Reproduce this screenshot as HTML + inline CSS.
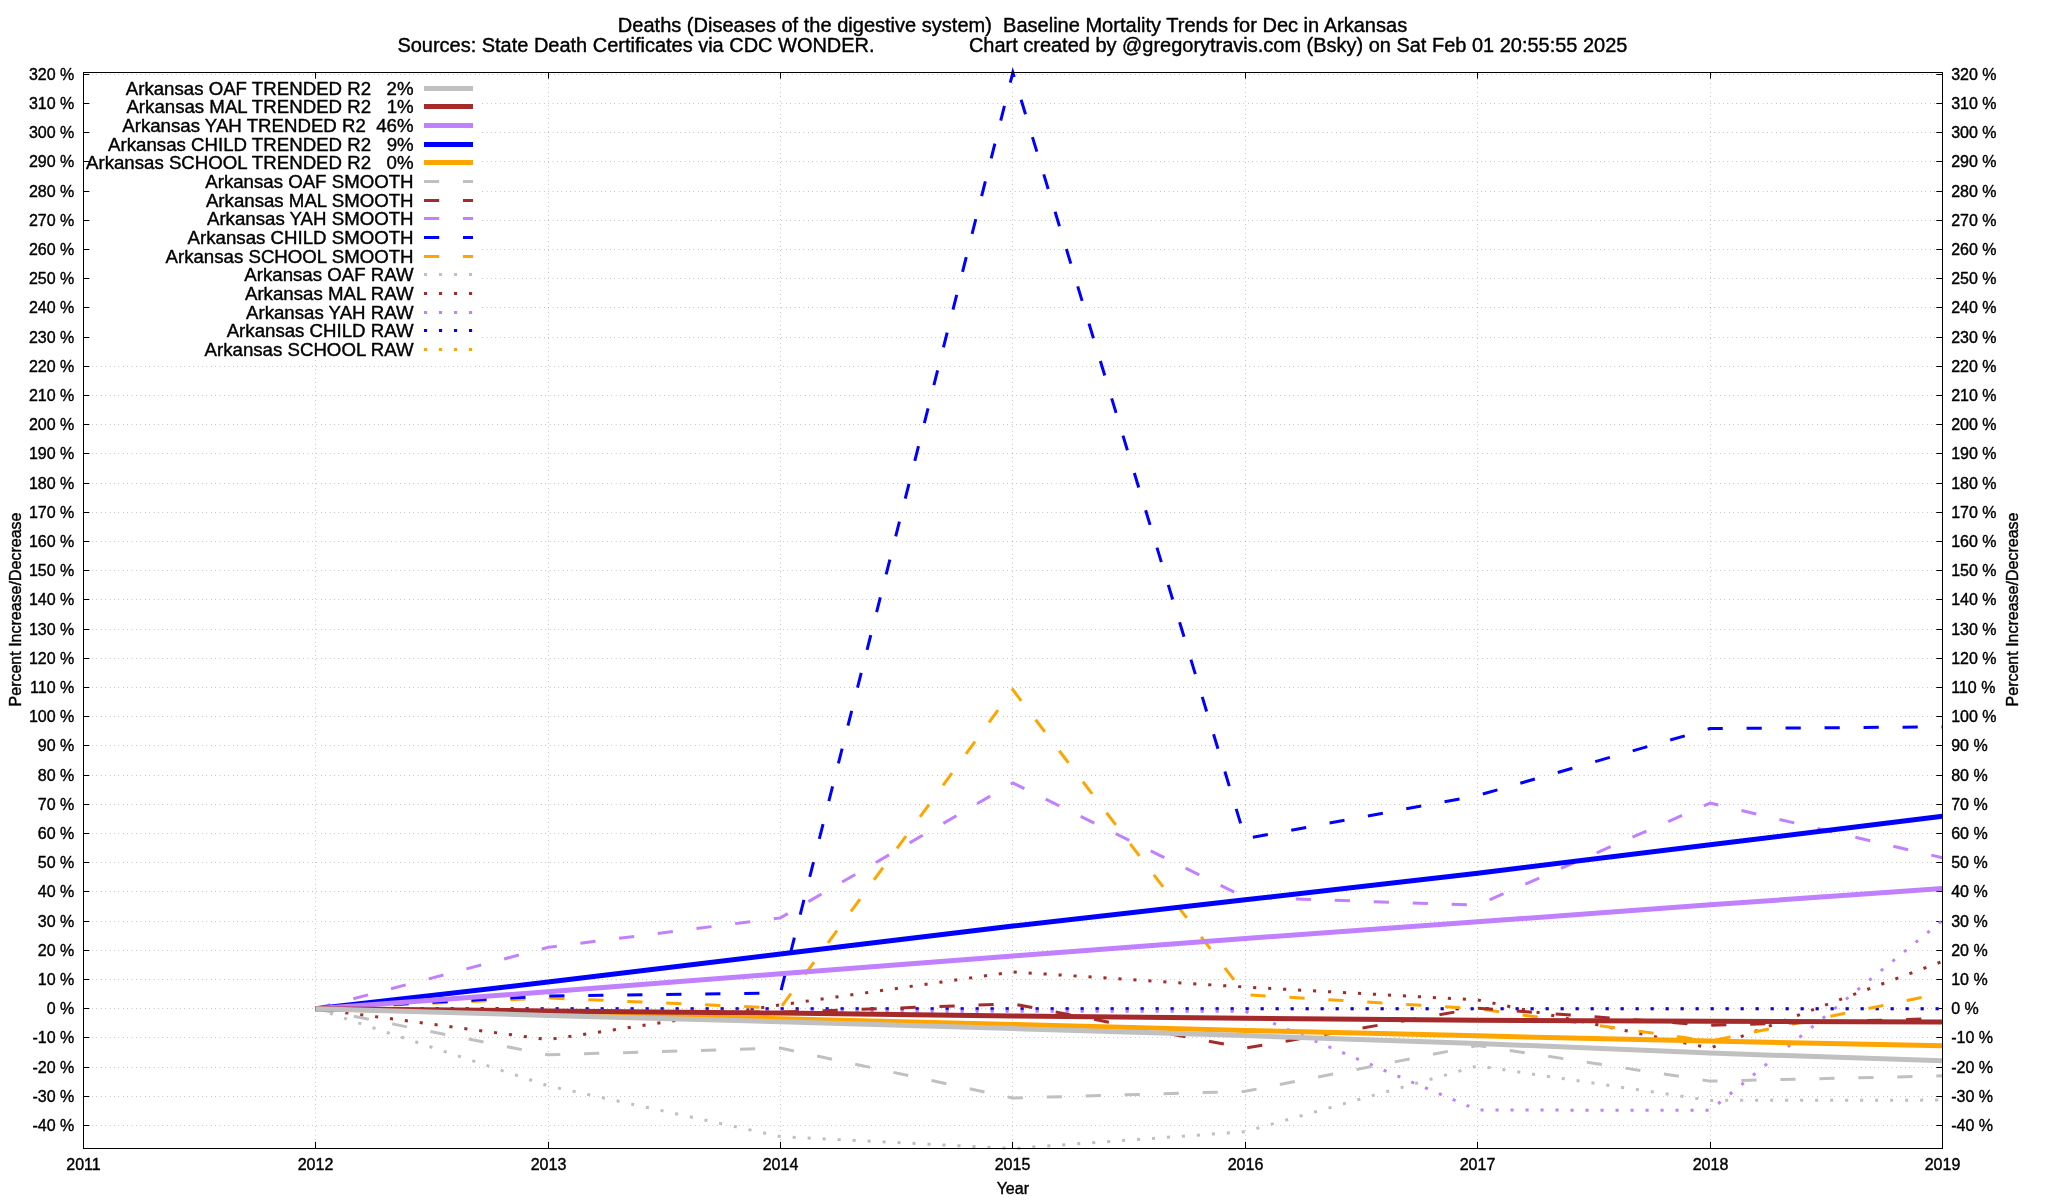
<!DOCTYPE html>
<html lang="en"><head><meta charset="utf-8"><title>Baseline Mortality Trends for Dec in Arkansas</title>
<style>
html,body{margin:0;padding:0;background:#fff;}
body{width:2048px;height:1200px;overflow:hidden;}
svg{display:block;}
text{white-space:pre;font-family:"Liberation Sans", sans-serif;fill:#000;stroke:#000;stroke-width:0.4px;stroke-linejoin:round;}
.t20{font-size:20.04px;}
.t18{font-size:18.67px;}
.t16{font-size:16px;}
.grid line{stroke:#000;stroke-width:0.5;stroke-dasharray:0.44 3.96;}
.tick line{stroke:#000;stroke-width:1;}
.ln polyline,.ln line{fill:none;stroke-linejoin:miter;stroke-linecap:butt;}
</style></head><body>
<div id="chart" style="will-change:transform;width:2048px;height:1200px;background:#fff">
<svg width="2048" height="1200" viewBox="0 0 2048 1200">
<rect x="0" y="0" width="2048" height="1200" fill="#ffffff"/>
<text class="t20" x="1012.5" y="31.8" text-anchor="middle" xml:space="preserve">Deaths (Diseases of the digestive system)  Baseline Mortality Trends for Dec in Arkansas</text>
<text class="t20" style="font-size:19.98px" x="1012.4" y="51.8" text-anchor="middle" xml:space="preserve">Sources: State Death Certificates via CDC WONDER.                 Chart created by @gregorytravis.com (Bsky) on Sat Feb 01 20:55:55 2025</text>
<g class="grid">
<line x1="83.45" y1="1125.5" x2="1942.5" y2="1125.5"/>
<line x1="83.45" y1="1096.5" x2="1942.5" y2="1096.5"/>
<line x1="83.45" y1="1067.5" x2="1942.5" y2="1067.5"/>
<line x1="83.45" y1="1037.5" x2="1942.5" y2="1037.5"/>
<line x1="83.45" y1="1008.5" x2="1942.5" y2="1008.5"/>
<line x1="83.45" y1="979.5" x2="1942.5" y2="979.5"/>
<line x1="83.45" y1="950.5" x2="1942.5" y2="950.5"/>
<line x1="83.45" y1="921.5" x2="1942.5" y2="921.5"/>
<line x1="83.45" y1="891.5" x2="1942.5" y2="891.5"/>
<line x1="83.45" y1="862.5" x2="1942.5" y2="862.5"/>
<line x1="83.45" y1="833.5" x2="1942.5" y2="833.5"/>
<line x1="83.45" y1="804.5" x2="1942.5" y2="804.5"/>
<line x1="83.45" y1="775.5" x2="1942.5" y2="775.5"/>
<line x1="83.45" y1="745.5" x2="1942.5" y2="745.5"/>
<line x1="83.45" y1="716.5" x2="1942.5" y2="716.5"/>
<line x1="83.45" y1="687.5" x2="1942.5" y2="687.5"/>
<line x1="83.45" y1="658.5" x2="1942.5" y2="658.5"/>
<line x1="83.45" y1="629.5" x2="1942.5" y2="629.5"/>
<line x1="83.45" y1="599.5" x2="1942.5" y2="599.5"/>
<line x1="83.45" y1="570.5" x2="1942.5" y2="570.5"/>
<line x1="83.45" y1="541.5" x2="1942.5" y2="541.5"/>
<line x1="83.45" y1="512.5" x2="1942.5" y2="512.5"/>
<line x1="83.45" y1="483.5" x2="1942.5" y2="483.5"/>
<line x1="83.45" y1="453.5" x2="1942.5" y2="453.5"/>
<line x1="83.45" y1="424.5" x2="1942.5" y2="424.5"/>
<line x1="83.45" y1="395.5" x2="1942.5" y2="395.5"/>
<line x1="83.45" y1="366.5" x2="1942.5" y2="366.5"/>
<line x1="83.45" y1="337.5" x2="90" y2="337.5"/><line x1="482.45" y1="337.5" x2="1942.5" y2="337.5"/>
<line x1="83.45" y1="307.5" x2="90" y2="307.5"/><line x1="482.45" y1="307.5" x2="1942.5" y2="307.5"/>
<line x1="83.45" y1="278.5" x2="90" y2="278.5"/><line x1="482.45" y1="278.5" x2="1942.5" y2="278.5"/>
<line x1="83.45" y1="249.5" x2="90" y2="249.5"/><line x1="482.45" y1="249.5" x2="1942.5" y2="249.5"/>
<line x1="83.45" y1="220.5" x2="90" y2="220.5"/><line x1="482.45" y1="220.5" x2="1942.5" y2="220.5"/>
<line x1="83.45" y1="191.5" x2="90" y2="191.5"/><line x1="482.45" y1="191.5" x2="1942.5" y2="191.5"/>
<line x1="83.45" y1="161.5" x2="90" y2="161.5"/><line x1="482.45" y1="161.5" x2="1942.5" y2="161.5"/>
<line x1="83.45" y1="132.5" x2="90" y2="132.5"/><line x1="482.45" y1="132.5" x2="1942.5" y2="132.5"/>
<line x1="83.45" y1="103.5" x2="90" y2="103.5"/><line x1="482.45" y1="103.5" x2="1942.5" y2="103.5"/>
<line x1="83.45" y1="74.5" x2="1942.5" y2="74.5"/>
<line x1="315.5" y1="1148.52" x2="315.5" y2="359.2"/><line x1="315.5" y1="79" x2="315.5" y2="72.5"/>
<line x1="548.5" y1="1148.52" x2="548.5" y2="72.5"/>
<line x1="780.5" y1="1148.52" x2="780.5" y2="72.5"/>
<line x1="1012.5" y1="1148.52" x2="1012.5" y2="72.5"/>
<line x1="1245.5" y1="1148.52" x2="1245.5" y2="72.5"/>
<line x1="1477.5" y1="1148.52" x2="1477.5" y2="72.5"/>
<line x1="1710.5" y1="1148.52" x2="1710.5" y2="72.5"/>
</g>
<g class="tick">
<line x1="83.5" y1="1125.5" x2="89.4" y2="1125.5"/><line x1="1942.5" y1="1125.5" x2="1936.3" y2="1125.5"/>
<line x1="83.5" y1="1096.5" x2="89.4" y2="1096.5"/><line x1="1942.5" y1="1096.5" x2="1936.3" y2="1096.5"/>
<line x1="83.5" y1="1067.5" x2="89.4" y2="1067.5"/><line x1="1942.5" y1="1067.5" x2="1936.3" y2="1067.5"/>
<line x1="83.5" y1="1037.5" x2="89.4" y2="1037.5"/><line x1="1942.5" y1="1037.5" x2="1936.3" y2="1037.5"/>
<line x1="83.5" y1="1008.5" x2="89.4" y2="1008.5"/><line x1="1942.5" y1="1008.5" x2="1936.3" y2="1008.5"/>
<line x1="83.5" y1="979.5" x2="89.4" y2="979.5"/><line x1="1942.5" y1="979.5" x2="1936.3" y2="979.5"/>
<line x1="83.5" y1="950.5" x2="89.4" y2="950.5"/><line x1="1942.5" y1="950.5" x2="1936.3" y2="950.5"/>
<line x1="83.5" y1="921.5" x2="89.4" y2="921.5"/><line x1="1942.5" y1="921.5" x2="1936.3" y2="921.5"/>
<line x1="83.5" y1="891.5" x2="89.4" y2="891.5"/><line x1="1942.5" y1="891.5" x2="1936.3" y2="891.5"/>
<line x1="83.5" y1="862.5" x2="89.4" y2="862.5"/><line x1="1942.5" y1="862.5" x2="1936.3" y2="862.5"/>
<line x1="83.5" y1="833.5" x2="89.4" y2="833.5"/><line x1="1942.5" y1="833.5" x2="1936.3" y2="833.5"/>
<line x1="83.5" y1="804.5" x2="89.4" y2="804.5"/><line x1="1942.5" y1="804.5" x2="1936.3" y2="804.5"/>
<line x1="83.5" y1="775.5" x2="89.4" y2="775.5"/><line x1="1942.5" y1="775.5" x2="1936.3" y2="775.5"/>
<line x1="83.5" y1="745.5" x2="89.4" y2="745.5"/><line x1="1942.5" y1="745.5" x2="1936.3" y2="745.5"/>
<line x1="83.5" y1="716.5" x2="89.4" y2="716.5"/><line x1="1942.5" y1="716.5" x2="1936.3" y2="716.5"/>
<line x1="83.5" y1="687.5" x2="89.4" y2="687.5"/><line x1="1942.5" y1="687.5" x2="1936.3" y2="687.5"/>
<line x1="83.5" y1="658.5" x2="89.4" y2="658.5"/><line x1="1942.5" y1="658.5" x2="1936.3" y2="658.5"/>
<line x1="83.5" y1="629.5" x2="89.4" y2="629.5"/><line x1="1942.5" y1="629.5" x2="1936.3" y2="629.5"/>
<line x1="83.5" y1="599.5" x2="89.4" y2="599.5"/><line x1="1942.5" y1="599.5" x2="1936.3" y2="599.5"/>
<line x1="83.5" y1="570.5" x2="89.4" y2="570.5"/><line x1="1942.5" y1="570.5" x2="1936.3" y2="570.5"/>
<line x1="83.5" y1="541.5" x2="89.4" y2="541.5"/><line x1="1942.5" y1="541.5" x2="1936.3" y2="541.5"/>
<line x1="83.5" y1="512.5" x2="89.4" y2="512.5"/><line x1="1942.5" y1="512.5" x2="1936.3" y2="512.5"/>
<line x1="83.5" y1="483.5" x2="89.4" y2="483.5"/><line x1="1942.5" y1="483.5" x2="1936.3" y2="483.5"/>
<line x1="83.5" y1="453.5" x2="89.4" y2="453.5"/><line x1="1942.5" y1="453.5" x2="1936.3" y2="453.5"/>
<line x1="83.5" y1="424.5" x2="89.4" y2="424.5"/><line x1="1942.5" y1="424.5" x2="1936.3" y2="424.5"/>
<line x1="83.5" y1="395.5" x2="89.4" y2="395.5"/><line x1="1942.5" y1="395.5" x2="1936.3" y2="395.5"/>
<line x1="83.5" y1="366.5" x2="89.4" y2="366.5"/><line x1="1942.5" y1="366.5" x2="1936.3" y2="366.5"/>
<line x1="83.5" y1="337.5" x2="89.4" y2="337.5"/><line x1="1942.5" y1="337.5" x2="1936.3" y2="337.5"/>
<line x1="83.5" y1="307.5" x2="89.4" y2="307.5"/><line x1="1942.5" y1="307.5" x2="1936.3" y2="307.5"/>
<line x1="83.5" y1="278.5" x2="89.4" y2="278.5"/><line x1="1942.5" y1="278.5" x2="1936.3" y2="278.5"/>
<line x1="83.5" y1="249.5" x2="89.4" y2="249.5"/><line x1="1942.5" y1="249.5" x2="1936.3" y2="249.5"/>
<line x1="83.5" y1="220.5" x2="89.4" y2="220.5"/><line x1="1942.5" y1="220.5" x2="1936.3" y2="220.5"/>
<line x1="83.5" y1="191.5" x2="89.4" y2="191.5"/><line x1="1942.5" y1="191.5" x2="1936.3" y2="191.5"/>
<line x1="83.5" y1="161.5" x2="89.4" y2="161.5"/><line x1="1942.5" y1="161.5" x2="1936.3" y2="161.5"/>
<line x1="83.5" y1="132.5" x2="89.4" y2="132.5"/><line x1="1942.5" y1="132.5" x2="1936.3" y2="132.5"/>
<line x1="83.5" y1="103.5" x2="89.4" y2="103.5"/><line x1="1942.5" y1="103.5" x2="1936.3" y2="103.5"/>
<line x1="83.5" y1="74.5" x2="89.4" y2="74.5"/><line x1="1942.5" y1="74.5" x2="1936.3" y2="74.5"/>
<line x1="315.5" y1="1148.5" x2="315.5" y2="1141.8"/><line x1="315.5" y1="72.5" x2="315.5" y2="78.6"/>
<line x1="548.5" y1="1148.5" x2="548.5" y2="1141.8"/><line x1="548.5" y1="72.5" x2="548.5" y2="78.6"/>
<line x1="780.5" y1="1148.5" x2="780.5" y2="1141.8"/><line x1="780.5" y1="72.5" x2="780.5" y2="78.6"/>
<line x1="1012.5" y1="1148.5" x2="1012.5" y2="1141.8"/><line x1="1012.5" y1="72.5" x2="1012.5" y2="78.6"/>
<line x1="1245.5" y1="1148.5" x2="1245.5" y2="1141.8"/><line x1="1245.5" y1="72.5" x2="1245.5" y2="78.6"/>
<line x1="1477.5" y1="1148.5" x2="1477.5" y2="1141.8"/><line x1="1477.5" y1="72.5" x2="1477.5" y2="78.6"/>
<line x1="1710.5" y1="1148.5" x2="1710.5" y2="1141.8"/><line x1="1710.5" y1="72.5" x2="1710.5" y2="78.6"/>
</g>
<rect x="90" y="79" width="391.5" height="280.2" fill="#ffffff"/>
<g class="ln">
<polyline points="315.61,1008.70 548.02,1008.70 780.44,1008.70 1012.85,1008.70 1245.26,1008.70 1477.67,1008.70 1710.09,1008.70 1942.50,1008.70" stroke="#ffa500" stroke-width="3" stroke-dasharray="3.1 11.9"/>
<polyline points="315.61,1008.70 548.02,1008.70 780.44,1008.70 1012.85,1008.70 1245.26,1008.70 1477.67,1008.70 1710.09,1008.70 1942.50,1008.70" stroke="#0000ff" stroke-width="3" stroke-dasharray="3.1 11.9"/>
<polyline points="315.61,1008.70 548.02,1011.33 780.44,1011.33 1012.85,1011.33 1245.26,1011.33 1477.67,1110.02 1710.09,1110.32 1942.50,920.52" stroke="#c080ff" stroke-width="3" stroke-dasharray="3.1 11.9"/>
<polyline points="315.61,1008.70 548.02,1039.65 780.44,1004.90 1012.85,971.91 1245.26,987.09 1477.67,999.94 1710.09,1048.12 1942.50,961.40" stroke="#a52a2a" stroke-width="3" stroke-dasharray="3.1 11.9"/>
<polyline points="315.61,1008.70 548.02,1085.79 780.44,1136.60 1012.85,1148.50 1245.26,1131.63 1477.67,1065.93 1710.09,1100.39 1942.50,1100.10" stroke="#c0c0c0" stroke-width="3" stroke-dasharray="3.1 11.9"/>
<polyline points="315.61,1008.70 548.02,997.90 780.44,1008.12 1012.85,689.84 1245.26,994.68 1477.67,1008.70 1710.09,1041.11 1942.50,993.22" stroke="#ffa500" stroke-width="3" stroke-dasharray="15.2 23.8"/>
<polyline points="315.61,1008.70 548.02,996.00 780.44,992.93 1012.85,72.50 1245.26,838.76 1477.67,795.54 1710.09,728.53 1942.50,726.92" stroke="#0000ff" stroke-width="3" stroke-dasharray="15.2 23.8"/>
<polyline points="315.61,1008.70 548.02,947.38 780.44,917.89 1012.85,782.98 1245.26,897.45 1477.67,905.04 1710.09,803.13 1942.50,857.74" stroke="#c080ff" stroke-width="3" stroke-dasharray="15.2 23.8"/>
<polyline points="315.61,1008.70 548.02,1011.04 780.44,1012.20 1012.85,1003.88 1245.26,1048.12 1477.67,1008.12 1710.09,1025.34 1942.50,1018.34" stroke="#a52a2a" stroke-width="3" stroke-dasharray="15.2 23.8"/>
<polyline points="315.61,1008.70 548.02,1054.84 780.44,1048.12 1012.85,1098.05 1245.26,1091.34 1477.67,1045.49 1710.09,1081.12 1942.50,1075.86" stroke="#c0c0c0" stroke-width="3" stroke-dasharray="15.2 23.8"/>
<polyline points="315.61,1008.70 548.02,1013.66 780.44,1018.74 1012.85,1024.47 1245.26,1030.40 1477.67,1035.86 1710.09,1040.97 1942.50,1045.87" stroke="#ffa500" stroke-width="5"/>
<polyline points="315.61,1008.70 548.02,982.10 780.44,954.07 1012.85,926.06 1245.26,899.84 1477.67,873.24 1710.09,844.83 1942.50,816.27" stroke="#0000ff" stroke-width="5"/>
<polyline points="315.61,1008.70 548.02,991.71 780.44,973.81 1012.85,955.99 1245.26,938.53 1477.67,921.86 1710.09,904.84 1942.50,888.40" stroke="#c080ff" stroke-width="5"/>
<polyline points="315.61,1008.70 548.02,1010.89 780.44,1013.08 1012.85,1016.00 1245.26,1018.19 1477.67,1020.20 1710.09,1021.20 1942.50,1021.93" stroke="#a52a2a" stroke-width="5"/>
<polyline points="315.61,1008.70 548.02,1015.42 780.44,1021.69 1012.85,1028.56 1245.26,1035.56 1477.67,1043.45 1710.09,1053.08 1942.50,1060.76" stroke="#c0c0c0" stroke-width="5"/>
<line x1="424.0" y1="88.50" x2="473.0" y2="88.50" stroke="#c0c0c0" stroke-width="5"/>
<line x1="424.0" y1="106.50" x2="473.0" y2="106.50" stroke="#a52a2a" stroke-width="5"/>
<line x1="424.0" y1="125.50" x2="473.0" y2="125.50" stroke="#c080ff" stroke-width="5"/>
<line x1="424.0" y1="144.50" x2="473.0" y2="144.50" stroke="#0000ff" stroke-width="5"/>
<line x1="424.0" y1="162.50" x2="473.0" y2="162.50" stroke="#ffa500" stroke-width="5"/>
<line x1="424.0" y1="181.50" x2="473.0" y2="181.50" stroke="#c0c0c0" stroke-width="3" stroke-dasharray="15.2 23.8"/>
<line x1="424.0" y1="200.50" x2="473.0" y2="200.50" stroke="#a52a2a" stroke-width="3" stroke-dasharray="15.2 23.8"/>
<line x1="424.0" y1="218.50" x2="473.0" y2="218.50" stroke="#c080ff" stroke-width="3" stroke-dasharray="15.2 23.8"/>
<line x1="424.0" y1="237.50" x2="473.0" y2="237.50" stroke="#0000ff" stroke-width="3" stroke-dasharray="15.2 23.8"/>
<line x1="424.0" y1="256.50" x2="473.0" y2="256.50" stroke="#ffa500" stroke-width="3" stroke-dasharray="15.2 23.8"/>
<line x1="424.0" y1="274.50" x2="473.0" y2="274.50" stroke="#c0c0c0" stroke-width="3" stroke-dasharray="3.1 11.9"/>
<line x1="424.0" y1="293.50" x2="473.0" y2="293.50" stroke="#a52a2a" stroke-width="3" stroke-dasharray="3.1 11.9"/>
<line x1="424.0" y1="312.50" x2="473.0" y2="312.50" stroke="#c080ff" stroke-width="3" stroke-dasharray="3.1 11.9"/>
<line x1="424.0" y1="330.50" x2="473.0" y2="330.50" stroke="#0000ff" stroke-width="3" stroke-dasharray="3.1 11.9"/>
<line x1="424.0" y1="349.50" x2="473.0" y2="349.50" stroke="#ffa500" stroke-width="3" stroke-dasharray="3.1 11.9"/>
</g>
<g class="t18" text-anchor="end">
<text x="413.6" y="95.10" xml:space="preserve">Arkansas OAF TRENDED R2   2%</text>
<text x="413.6" y="113.10" xml:space="preserve">Arkansas MAL TRENDED R2   1%</text>
<text x="413.6" y="132.10" xml:space="preserve">Arkansas YAH TRENDED R2  46%</text>
<text x="413.6" y="151.10" xml:space="preserve">Arkansas CHILD TRENDED R2   9%</text>
<text x="413.6" y="169.10" xml:space="preserve">Arkansas SCHOOL TRENDED R2   0%</text>
<text x="413.6" y="188.10" xml:space="preserve">Arkansas OAF SMOOTH</text>
<text x="413.6" y="207.10" xml:space="preserve">Arkansas MAL SMOOTH</text>
<text x="413.6" y="225.10" xml:space="preserve">Arkansas YAH SMOOTH</text>
<text x="413.6" y="244.10" xml:space="preserve">Arkansas CHILD SMOOTH</text>
<text x="413.6" y="263.10" xml:space="preserve">Arkansas SCHOOL SMOOTH</text>
<text x="413.6" y="281.10" xml:space="preserve">Arkansas OAF RAW</text>
<text x="413.6" y="300.10" xml:space="preserve">Arkansas MAL RAW</text>
<text x="413.6" y="319.10" xml:space="preserve">Arkansas YAH RAW</text>
<text x="413.6" y="337.10" xml:space="preserve">Arkansas CHILD RAW</text>
<text x="413.6" y="356.10" xml:space="preserve">Arkansas SCHOOL RAW</text>
</g>
<rect x="83.5" y="72.5" width="1859.0" height="1076.0" fill="none" stroke="#000" stroke-width="1"/>
<g class="t16">
<text x="74.3" y="1130.8" text-anchor="end">-40 %</text><text x="1951.2" y="1130.8">-40 %</text>
<text x="74.3" y="1101.8" text-anchor="end">-30 %</text><text x="1951.2" y="1101.8">-30 %</text>
<text x="74.3" y="1072.8" text-anchor="end">-20 %</text><text x="1951.2" y="1072.8">-20 %</text>
<text x="74.3" y="1042.8" text-anchor="end">-10 %</text><text x="1951.2" y="1042.8">-10 %</text>
<text x="74.3" y="1013.8" text-anchor="end">0 %</text><text x="1951.2" y="1013.8">0 %</text>
<text x="74.3" y="984.8" text-anchor="end">10 %</text><text x="1951.2" y="984.8">10 %</text>
<text x="74.3" y="955.8" text-anchor="end">20 %</text><text x="1951.2" y="955.8">20 %</text>
<text x="74.3" y="926.8" text-anchor="end">30 %</text><text x="1951.2" y="926.8">30 %</text>
<text x="74.3" y="896.8" text-anchor="end">40 %</text><text x="1951.2" y="896.8">40 %</text>
<text x="74.3" y="867.8" text-anchor="end">50 %</text><text x="1951.2" y="867.8">50 %</text>
<text x="74.3" y="838.8" text-anchor="end">60 %</text><text x="1951.2" y="838.8">60 %</text>
<text x="74.3" y="809.8" text-anchor="end">70 %</text><text x="1951.2" y="809.8">70 %</text>
<text x="74.3" y="780.8" text-anchor="end">80 %</text><text x="1951.2" y="780.8">80 %</text>
<text x="74.3" y="750.8" text-anchor="end">90 %</text><text x="1951.2" y="750.8">90 %</text>
<text x="74.3" y="721.8" text-anchor="end">100 %</text><text x="1951.2" y="721.8">100 %</text>
<text x="74.3" y="692.8" text-anchor="end">110 %</text><text x="1951.2" y="692.8">110 %</text>
<text x="74.3" y="663.8" text-anchor="end">120 %</text><text x="1951.2" y="663.8">120 %</text>
<text x="74.3" y="634.8" text-anchor="end">130 %</text><text x="1951.2" y="634.8">130 %</text>
<text x="74.3" y="604.8" text-anchor="end">140 %</text><text x="1951.2" y="604.8">140 %</text>
<text x="74.3" y="575.8" text-anchor="end">150 %</text><text x="1951.2" y="575.8">150 %</text>
<text x="74.3" y="546.8" text-anchor="end">160 %</text><text x="1951.2" y="546.8">160 %</text>
<text x="74.3" y="517.8" text-anchor="end">170 %</text><text x="1951.2" y="517.8">170 %</text>
<text x="74.3" y="488.8" text-anchor="end">180 %</text><text x="1951.2" y="488.8">180 %</text>
<text x="74.3" y="458.8" text-anchor="end">190 %</text><text x="1951.2" y="458.8">190 %</text>
<text x="74.3" y="429.8" text-anchor="end">200 %</text><text x="1951.2" y="429.8">200 %</text>
<text x="74.3" y="400.8" text-anchor="end">210 %</text><text x="1951.2" y="400.8">210 %</text>
<text x="74.3" y="371.8" text-anchor="end">220 %</text><text x="1951.2" y="371.8">220 %</text>
<text x="74.3" y="342.8" text-anchor="end">230 %</text><text x="1951.2" y="342.8">230 %</text>
<text x="74.3" y="312.8" text-anchor="end">240 %</text><text x="1951.2" y="312.8">240 %</text>
<text x="74.3" y="283.8" text-anchor="end">250 %</text><text x="1951.2" y="283.8">250 %</text>
<text x="74.3" y="254.8" text-anchor="end">260 %</text><text x="1951.2" y="254.8">260 %</text>
<text x="74.3" y="225.8" text-anchor="end">270 %</text><text x="1951.2" y="225.8">270 %</text>
<text x="74.3" y="196.8" text-anchor="end">280 %</text><text x="1951.2" y="196.8">280 %</text>
<text x="74.3" y="166.8" text-anchor="end">290 %</text><text x="1951.2" y="166.8">290 %</text>
<text x="74.3" y="137.8" text-anchor="end">300 %</text><text x="1951.2" y="137.8">300 %</text>
<text x="74.3" y="108.8" text-anchor="end">310 %</text><text x="1951.2" y="108.8">310 %</text>
<text x="74.3" y="79.8" text-anchor="end">320 %</text><text x="1951.2" y="79.8">320 %</text>
<text x="83.5" y="1169.5" text-anchor="middle">2011</text>
<text x="315.5" y="1169.5" text-anchor="middle">2012</text>
<text x="548.5" y="1169.5" text-anchor="middle">2013</text>
<text x="780.5" y="1169.5" text-anchor="middle">2014</text>
<text x="1012.5" y="1169.5" text-anchor="middle">2015</text>
<text x="1245.5" y="1169.5" text-anchor="middle">2016</text>
<text x="1477.5" y="1169.5" text-anchor="middle">2017</text>
<text x="1710.5" y="1169.5" text-anchor="middle">2018</text>
<text x="1942.5" y="1169.5" text-anchor="middle">2019</text>
<text x="1012.8" y="1193.5" text-anchor="middle">Year</text>
<text transform="translate(21.3,609.5) rotate(-90)" text-anchor="middle">Percent Increase/Decrease</text>
<text transform="translate(2018.0,609.5) rotate(-90)" text-anchor="middle">Percent Increase/Decrease</text>
</g>
</svg>
</div>
</body></html>
